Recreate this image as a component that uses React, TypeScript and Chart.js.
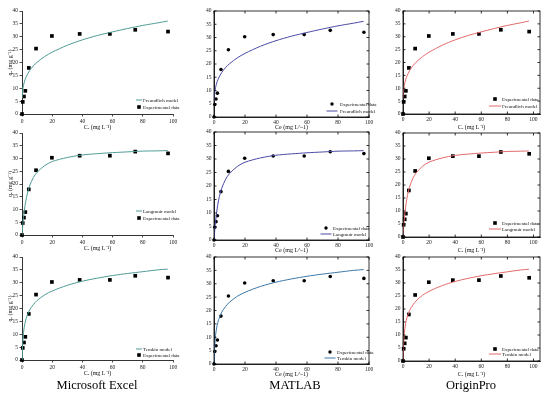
import React, { useEffect, useRef } from "react";
import { Chart, registerables } from "chart.js";
Chart.register(...registerables);

// Experimental data
const ceData = [0, 0.5, 1.3, 2.2, 4.5, 9.3, 19.8, 38.2, 58.2, 75, 96.7];
const qeData = [0, 4.7, 6.8, 9.0, 17.9, 25.4, 30.3, 31.1, 31.1, 32.7, 32.0];

// Model curves
const freundlichCe = [0.1, 0.3, 0.5, 1, 2, 3, 5, 7.5, 10, 15, 20, 30, 40, 50, 60, 70, 80, 90, 96.5];
const freundlichQe = [6.1, 8.1, 9.3, 11.1, 13.3, 14.7, 16.8, 18.7, 20.1, 22.3, 24.0, 26.7, 28.8, 30.5, 31.9, 33.2, 34.4, 35.4, 36.1];
const langmuirCe = [0, 0.5, 1, 2, 3, 4, 5, 7.5, 10, 15, 20, 30, 40, 50, 60, 70, 80, 90, 96.5];
const langmuirQe = [0, 3.8, 6.9, 11.5, 14.8, 17.3, 19.2, 22.5, 24.6, 27.2, 28.8, 30.4, 31.4, 31.9, 32.3, 32.6, 32.9, 33.0, 33.1];
const temkinCe = [0.14, 0.2, 0.3, 0.5, 1, 2, 3, 5, 7.5, 10, 15, 20, 30, 40, 50, 60, 70, 80, 90, 96.5];
const temkinQe = [0.0, 2.0, 4.2, 6.9, 10.7, 14.4, 16.6, 19.4, 21.5, 23.1, 25.3, 26.8, 29.0, 30.6, 31.8, 32.8, 33.6, 34.3, 35.0, 35.3];

// Tick labels
const xTickValues = [0, 20, 40, 60, 80, 100];
const yTickValues = [0, 5, 10, 15, 20, 25, 30, 35, 40];

const columnLabels = ["Microsoft Excel", "MATLAB", "OriginPro"];

type Style = "excel" | "matlab" | "origin";
interface PanelCfg {
  style: Style;
  ca: [number, number, number, number]; // left, top, right, bottom (page px)
  xMax: number;
  model: string;
  mx: number[];
  my: number[];
  color: string;
  legend: { sx: number; tx: number; y1: number; y2: number; sw: number };
  xTitle: string;
  yTitle?: string;
}

const SERIF = "'Liberation Serif', 'Times New Roman', serif";

const EXCEL_COLOR = "#4f9b95";
const MATLAB_COLOR = "#4a4aa6";
const MATLAB_COLOR2 = "#3c78aa";
const ORIGIN_COLOR = "#e36a6a";

const excelX = [22, 173] as const;
const matlabX = [214, 369] as const;
const originX = [403, 540] as const;

const panels: PanelCfg[] = [
  // Excel column
  { style: "excel", ca: [excelX[0], 11, excelX[1], 114], xMax: 100, model: "Freundlich model", mx: freundlichCe, my: freundlichQe, color: EXCEL_COLOR, legend: { sx: 139, tx: 143, y1: 100, y2: 107, sw: 6 }, xTitle: "Cₑ (mg L⁻¹)", yTitle: "qₑ (mg g⁻¹)" },
  { style: "excel", ca: [excelX[0], 133, excelX[1], 235], xMax: 100, model: "Langmuir model", mx: langmuirCe, my: langmuirQe, color: EXCEL_COLOR, legend: { sx: 139, tx: 143, y1: 211, y2: 218, sw: 6 }, xTitle: "Cₑ (mg L⁻¹)", yTitle: "qₑ (mg g⁻¹)" },
  { style: "excel", ca: [excelX[0], 257, excelX[1], 360], xMax: 100, model: "Temkin model", mx: temkinCe, my: temkinQe, color: EXCEL_COLOR, legend: { sx: 139, tx: 143, y1: 349, y2: 355, sw: 6 }, xTitle: "Cₑ (mg L⁻¹)", yTitle: "qₑ (mg g⁻¹)" },
  // MATLAB column
  { style: "matlab", ca: [matlabX[0], 11, matlabX[1], 117], xMax: 100, model: "Freundlich model", mx: freundlichCe, my: freundlichQe, color: MATLAB_COLOR, legend: { sx: 332, tx: 340, y1: 104, y2: 111, sw: 11 }, xTitle: "Ce (mg L^-1)" },
  { style: "matlab", ca: [matlabX[0], 132, matlabX[1], 240], xMax: 100, model: "Langmuir model", mx: langmuirCe, my: langmuirQe, color: MATLAB_COLOR, legend: { sx: 326, tx: 333, y1: 228, y2: 234, sw: 11 }, xTitle: "Ce (mg L^-1)" },
  { style: "matlab", ca: [matlabX[0], 257, matlabX[1], 364], xMax: 100, model: "Temkin model", mx: temkinCe, my: temkinQe, color: MATLAB_COLOR2, legend: { sx: 330, tx: 337, y1: 352, y2: 358, sw: 11 }, xTitle: "Ce (mg L^-1)" },
  // Origin column
  { style: "origin", ca: [originX[0], 11, originX[1], 114], xMax: 105, model: "Freundlich model", mx: freundlichCe, my: freundlichQe, color: ORIGIN_COLOR, legend: { sx: 495, tx: 502, y1: 99, y2: 106, sw: 12 }, xTitle: "Cₑ (mg L⁻¹)" },
  { style: "origin", ca: [originX[0], 133, originX[1], 237], xMax: 105, model: "Langmuir model", mx: langmuirCe, my: langmuirQe, color: ORIGIN_COLOR, legend: { sx: 495, tx: 502, y1: 223, y2: 229, sw: 12 }, xTitle: "Cₑ (mg L⁻¹)" },
  { style: "origin", ca: [originX[0], 257, originX[1], 361], xMax: 105, model: "Temkin model", mx: temkinCe, my: temkinQe, color: ORIGIN_COLOR, legend: { sx: 495, tx: 502, y1: 349, y2: 354, sw: 12 }, xTitle: "Cₑ (mg L⁻¹)" },
];

const decoPlugin = {
  id: "deco",
  afterDraw(chart: any, _args: any, opts: any) {
    const { ctx, chartArea: ca } = chart;
    const xs = chart.scales.x;
    const ys = chart.scales.y;
    const cfg: PanelCfg = opts.cfg;
    const offX: number = opts.offX;
    const offY: number = opts.offY;
    ctx.save();
    ctx.strokeStyle = "#000";
    ctx.lineWidth = 0.8;
    if (cfg.style !== "excel") {
      ctx.strokeRect(ca.left, ca.top, ca.right - ca.left, ca.bottom - ca.top);
      const tl = 2.5;
      ctx.beginPath();
      xs.ticks.forEach((t: any) => {
        const px = xs.getPixelForValue(t.value);
        ctx.moveTo(px, ca.bottom);
        ctx.lineTo(px, ca.bottom - tl);
        ctx.moveTo(px, ca.top);
        ctx.lineTo(px, ca.top + tl);
      });
      ys.ticks.forEach((t: any) => {
        const py = ys.getPixelForValue(t.value);
        ctx.moveTo(ca.left, py);
        ctx.lineTo(ca.left + tl, py);
        ctx.moveTo(ca.right, py);
        ctx.lineTo(ca.right - tl, py);
      });
      ctx.stroke();
    }
    // axis titles
    ctx.fillStyle = "#111";
    ctx.font = `6px ${SERIF}`;
    ctx.textAlign = "center";
    ctx.textBaseline = "middle";
    const titleDy = cfg.style === "matlab" ? 10 : 13;
    ctx.fillText(cfg.xTitle, (ca.left + ca.right) / 2, ca.bottom + titleDy);
    if (cfg.yTitle) {
      ctx.save();
      ctx.translate(10 - offX, (ca.top + ca.bottom) / 2);
      ctx.rotate(-Math.PI / 2);
      ctx.fillText(cfg.yTitle, 0, 0);
      ctx.restore();
    }
    // legend
    const lg = cfg.legend;
    const lineFirst = cfg.style === "excel";
    const items = lineFirst
      ? [{ kind: "line", label: chart.data.datasets[0].label }, { kind: "pt", label: chart.data.datasets[1].label }]
      : [{ kind: "pt", label: chart.data.datasets[1].label }, { kind: "line", label: chart.data.datasets[0].label }];
    ctx.font = `5px ${SERIF}`;
    ctx.textAlign = "left";
    items.forEach((it, i) => {
      const y = (i === 0 ? lg.y1 : lg.y2) - offY;
      const sx = lg.sx - offX;
      if (it.kind === "line") {
        ctx.strokeStyle = cfg.color;
        ctx.lineWidth = 1;
        ctx.beginPath();
        ctx.moveTo(sx - lg.sw / 2, y);
        ctx.lineTo(sx + lg.sw / 2, y);
        ctx.stroke();
      } else {
        ctx.fillStyle = "#000";
        if (cfg.style === "matlab") {
          ctx.beginPath();
          ctx.arc(sx, y, 1.7, 0, Math.PI * 2);
          ctx.fill();
        } else {
          ctx.fillRect(sx - 1.8, y - 1.8, 3.6, 3.6);
        }
      }
      ctx.fillStyle = "#111";
      ctx.fillText(it.label, lg.tx - offX, y + 0.3);
    });
    ctx.restore();
  },
};

function Panel({ cfg }: { cfg: PanelCfg }) {
  const ref = useRef<HTMLCanvasElement>(null);
  const [l, t, r, b] = cfg.ca;
  const cl = Math.max(0, l - 26);
  const ct = t - 7;
  const cr = Math.min(550, r + 14);
  const cb = b + 18;
  const W = cr - cl;
  const H = cb - ct;

  useEffect(() => {
    if (!ref.current) return;
    const yW = l - cl;
    const xH = cb - b;
    const padTop = t - ct;
    const padRight = cr - r;
    const isExcel = cfg.style === "excel";
    const tickFont = { family: SERIF, size: 5.5 };

    const mkScale = (axis: "x" | "y") => ({
      type: "linear",
      min: 0,
      max: axis === "x" ? cfg.xMax : 40,
      grid: {
        display: true,
        drawOnChartArea: false,
        drawTicks: isExcel,
        tickLength: 2.5,
        color: "#000",
        lineWidth: 0.7,
      },
      border: { display: true, color: "#000", width: 0.8 },
      ticks: {
        font: tickFont,
        color: "#222",
        padding: isExcel ? 1.5 : 2.5,
        autoSkip: false,
        maxRotation: 0,
        minRotation: 0,
      },
      afterBuildTicks: (s: any) => {
        s.ticks = (axis === "x" ? xTickValues : yTickValues).map((v) => ({ value: v }));
      },
      afterFit: (s: any) => {
        if (axis === "x") s.height = xH;
        else s.width = yW;
        s.paddingLeft = 0;
        s.paddingRight = 0;
        s.paddingTop = 0;
        s.paddingBottom = 0;
      },
    });

    const chart = new Chart(ref.current, {
      type: "scatter",
      data: {
        datasets: [
          {
            label: cfg.model,
            data: cfg.mx.map((x, i) => ({ x, y: cfg.my[i] })),
            showLine: true,
            borderColor: cfg.color,
            borderWidth: 1,
            pointRadius: 0,
            tension: 0.3,
          },
          {
            label: "Experimental data",
            data: ceData.map((x, i) => ({ x, y: qeData[i] })),
            showLine: false,
            backgroundColor: "#000",
            borderColor: "#000",
            borderWidth: 0,
            pointStyle: cfg.style === "matlab" ? "circle" : "rect",
            pointRadius: cfg.style === "matlab" ? 1.8 : 2.6,
            clip: false,
          } as any,
        ],
      },
      options: {
        responsive: false,
        animation: false,
        devicePixelRatio: 1,
        layout: { padding: { top: padTop, right: padRight, left: 0, bottom: 0 } },
        plugins: {
          legend: { display: false },
          tooltip: { enabled: false },
          deco: { cfg, offX: cl, offY: ct },
        } as any,
        scales: { x: mkScale("x") as any, y: mkScale("y") as any },
      },
      plugins: [decoPlugin],
    });
    return () => chart.destroy();
  }, []);

  return (
    <canvas
      ref={ref}
      width={W}
      height={H}
      style={{ position: "absolute", left: cl, top: ct, width: W, height: H }}
    />
  );
}

export default function App() {
  const labelCenters = [97, 295, 471];
  return (
    <div style={{ position: "absolute", left: 0, top: 0, width: 550, height: 394, background: "#fff", overflow: "hidden" }}>
      {panels.map((p, i) => (
        <Panel key={i} cfg={p} />
      ))}
      {columnLabels.map((txt, i) => (
        <div
          key={txt}
          style={{
            position: "absolute",
            left: labelCenters[i] - 60,
            width: 120,
            top: 377,
            textAlign: "center",
            fontFamily: SERIF,
            fontSize: 12.5,
            lineHeight: "16px",
            color: "#000",
          }}
        >
          {txt}
        </div>
      ))}
    </div>
  );
}
